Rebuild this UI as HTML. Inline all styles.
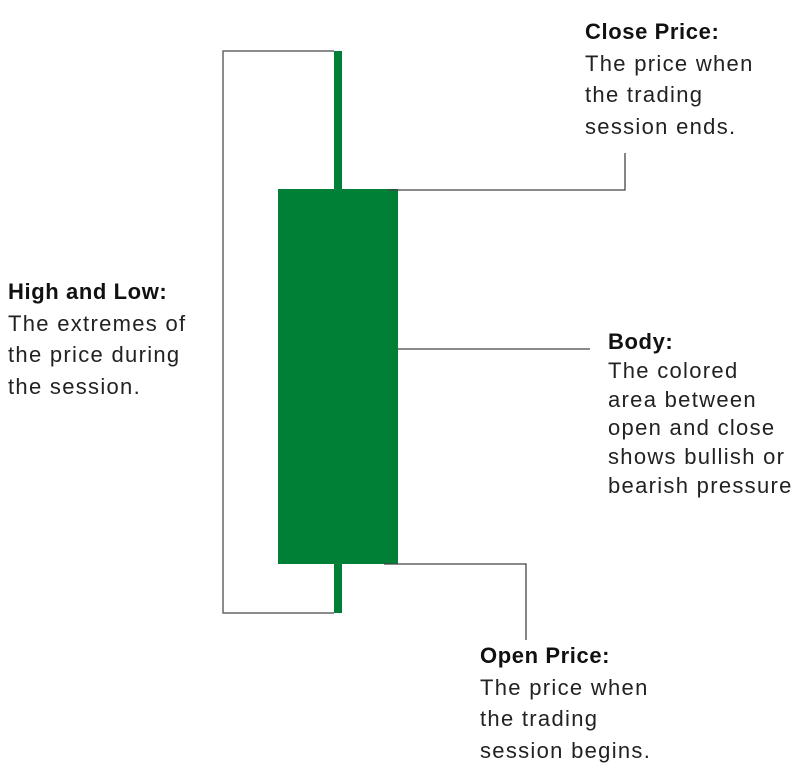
<!DOCTYPE html>
<html><head><style>
body{margin:0;background:#fff;}
.c{position:relative;width:800px;height:777px;overflow:hidden;font-family:"Liberation Sans",sans-serif;color:#222;}
.t{position:absolute;font-size:22px;line-height:31.5px;letter-spacing:1.3px;white-space:nowrap;}
.t b{color:#111;letter-spacing:0.6px;}
</style></head><body><div class="c">
<svg width="800" height="777" style="position:absolute;left:0;top:0">
<polyline points="334,51 223,51 223,613 334,613" fill="none" stroke="#666" stroke-width="1.5"/>
<rect x="334" y="51" width="8" height="562" fill="#007f36"/>
<rect x="278" y="189" width="120" height="375" fill="#007f36"/>
<polyline points="388,190 625,190 625,153" fill="none" stroke="#444" stroke-width="1.3"/>
<line x1="398" y1="349" x2="590" y2="349" stroke="#444" stroke-width="1.3"/>
<polyline points="384,564 526,564 526,640" fill="none" stroke="#444" stroke-width="1.3"/>
</svg>
<div class="t" style="left:585px;top:16px"><b>Close Price:</b><br>The price when<br>the trading<br>session ends.</div>
<div class="t" style="left:8px;top:276px"><b>High and Low:</b><br>The extremes of<br>the price during<br>the session.</div>
<div class="t" style="left:608px;top:328px;line-height:28.8px"><b>Body:</b><br>The colored<br>area between<br>open and close<br>shows bullish or<br>bearish pressure</div>
<div class="t" style="left:480px;top:640px"><b>Open Price:</b><br>The price when<br>the trading<br>session begins.</div>
</div></body></html>
